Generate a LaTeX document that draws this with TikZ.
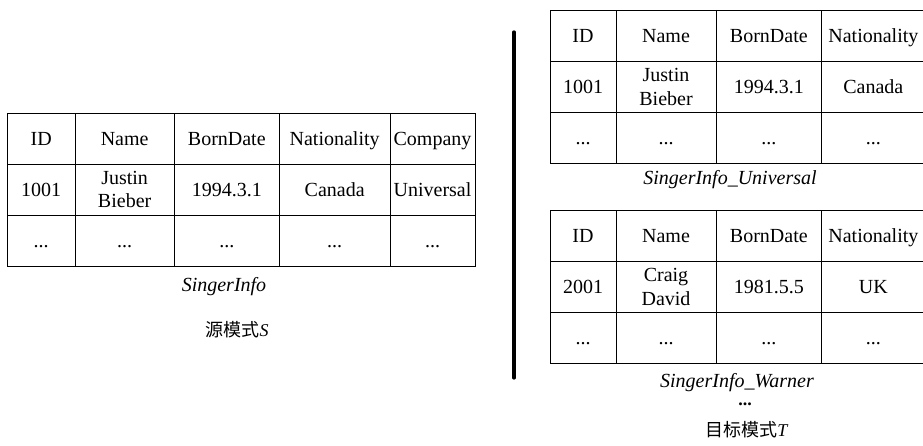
\documentclass[tikz,border=0pt]{standalone}
\usepackage{fontspec}
\setmainfont{Liberation Serif}
\newfontfamily\cjk{Noto Sans CJK SC}
\usetikzlibrary{positioning}

\begin{document}
\begin{tikzpicture}[x=1pt, y=-1pt,
    cell/.style={rectangle, draw, line width=0.8pt, inner sep=0pt, outer sep=0pt, minimum height=51pt, align=center, font=\fontsize{20}{23.5}\selectfont},
    one/.style={text height=13.5pt, text depth=0pt},
    two/.style={},
    tname/.style={font=\fontsize{20}{23.5}\selectfont\itshape},
    schema/.style={font=\fontsize{18}{22}\selectfont},
    divider/.style={line width=3.2pt, line cap=round}
  ]
    \useasboundingbox (0,0) rectangle (923,446);

    % source table
    \foreach \x/\w/\h/\a/\s [count=\j] in {41.15/67.7/ID/1001/one, 124.65/99.3/Name/{Justin\\Bieber}/two, 226.8/105/BornDate/1994.3.1/one, 334.65/110.7/Nationality/Canada/one, 432.5/85/Company/Universal/one}{
      \node[cell, one, minimum width=\w] (s-1-\j) at (\x,138.5) {\h};
      \node[cell, \s, minimum width=\w, below=0pt of s-1-\j] (s-2-\j) {\a};
      \node[cell, one, minimum width=\w, below=0pt of s-2-\j] (s-3-\j) {...};
    }
    \node[tname] (s-name) at (224,287) {SingerInfo};
    \node[schema] (s-schema) at (237,330) {{\cjk 源模式}\textit{S}};

    % divider
    \coordinate (sep-top) at (514,32);
    \coordinate (sep-bot) at (514,378);
    \draw[divider] (sep-top) -- (sep-bot);

    % target tables
    \foreach \x/\w/\h/\a/\b/\s [count=\j] in {583/66/ID/1001/2001/one, 666/100/Name/{Justin\\Bieber}/{Craig\\David}/two, 768.85/105.7/BornDate/1994.3.1/1981.5.5/one, 873.35/103.3/Nationality/Canada/UK/one}{
      \node[cell, one, minimum width=\w] (u-1-\j) at (\x,36.2) {\h};
      \node[cell, \s, minimum width=\w, below=0pt of u-1-\j] (u-2-\j) {\a};
      \node[cell, one, minimum width=\w, below=0pt of u-2-\j] (u-3-\j) {...};
      \node[cell, one, minimum width=\w] (w-1-\j) at (\x,236.2) {\h};
      \node[cell, \s, minimum width=\w, below=0pt of w-1-\j] (w-2-\j) {\b};
      \node[cell, one, minimum width=\w, below=0pt of w-2-\j] (w-3-\j) {...};
    }
    \node[tname] (u-name) at (730,180) {SingerInfo\_Universal};
    \node[tname] (w-name) at (737,383) {SingerInfo\_Warner};
    \node[schema] (more) at (745,404) {\textbf{...}};
    \node[schema] (t-schema) at (747,430) {{\cjk 目标模式}\textit{T}};
  \end{tikzpicture}
\end{document}
